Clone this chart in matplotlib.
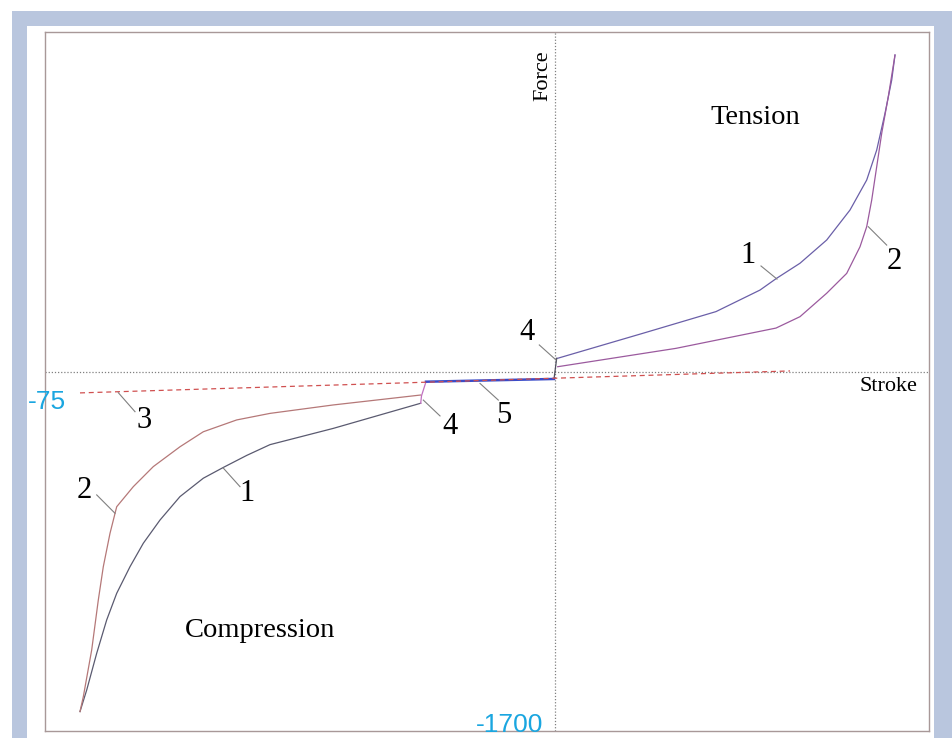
import matplotlib
matplotlib.use("Agg")
import matplotlib.pyplot as plt
from matplotlib.patches import Rectangle

# stroke (mm-ish) / force values
t1_stroke = [0.27, 8.77, 16.1, 20.5, 22.17, 24.5, 27.17, 29.5, 31.17, 32.17, 33.0, 33.67, 34.0]
t1_force = [65, 183, 286, 388, 444, 515, 625, 767, 909, 1051, 1225, 1382, 1501]
t2_stroke = [0.27, 12.1, 22.1, 24.5, 27.17, 29.17, 30.5, 31.17, 31.67, 32.17, 32.67, 33.33, 34.0]
t2_force = [25, 112, 208, 262, 373, 467, 593, 688, 814, 972, 1130, 1304, 1501]

c1_stroke = [-13.43, -22.17, -28.5, -30.83, -33.17, -35.17, -37.5, -39.5, -41.17,
             -42.5, -43.83, -44.83, -45.83, -46.83, -47.5]
c1_force = [-148, -267, -344, -395, -452, -503, -590, -701, -811,
            -922, -1048, -1174, -1332, -1506, -1608]
c2_stroke = [-13.43, -22.17, -28.5, -31.83, -35.17, -37.5, -40.17, -42.17, -43.83,
             -44.5, -45.17, -45.67, -46.33, -47.17, -47.5]
c2_force = [-109, -156, -196, -227, -283, -354, -448, -543, -638,
            -764, -922, -1080, -1316, -1538, -1608]

# 4: jumps, 5: idle stroke, 3: gas force
jump_c_stroke = [-13.43, -13.35, -12.9]
jump_c_force = [-148, -113, -46]
jump_t_stroke = [-0.1, 0.17]
jump_t_force = [-33, 65]
idle_stroke = [-12.9, -0.1]
idle_force = [-46, -33]
gas_stroke = [-47.5, 23.5]
gas_force = [-99, 5]

# number labels: text, text pos, leader from, leader to
labels = [
    ("1", (19.3, 554), (20.6, 502), (22.2, 440)),
    ("2", (33.9, 521), (33.17, 601), (31.33, 688)),
    ("4", (-2.8, 185), (-1.57, 128), (0.1, 57)),
    ("3", (-41.1, -232), (-42.0, -188), (-43.67, -98)),
    ("2", (-47.1, -559), (-45.83, -582), (-44.0, -669)),
    ("1", (-30.8, -573), (-31.5, -543), (-33.17, -455)),
    ("4", (-10.5, -256), (-11.5, -208), (-13.17, -133)),
    ("5", (-5.1, -208), (-5.67, -133), (-7.5, -54)),
]

W, H = 952, 738
fig = plt.figure(figsize=(W / 100, H / 100), dpi=100)
fig.patch.set_facecolor("white")

band = "#b9c6de"
def px_rect(x0, y0, x1, y1):
    fig.add_artist(Rectangle((x0 / W, 1 - y1 / H), (x1 - x0) / W, (y1 - y0) / H,
                             transform=fig.transFigure, color=band, lw=0, zorder=0))
px_rect(12, 11, 952, 26)
px_rect(12, 11, 27, 738)
px_rect(934, 11, 952, 738)

ax = fig.add_axes([45 / W, 1 - 731 / H, (929 - 45) / W, (731 - 32) / H])
ax.set_xlim(-51.0, 37.4)
ax.set_ylim(-1700, 1610)
ax.set_xticks([])
ax.set_yticks([])
for s in ax.spines.values():
    s.set_color("#a89898")
    s.set_linewidth(1.0)

ax.axhline(0, color="#808080", lw=0.9, ls=(0, (1, 1.5)))
ax.axvline(0, color="#808080", lw=0.9, ls=(0, (1, 1.5)))

ax.plot(t1_stroke, t1_force, color="#6a5fa8", lw=0.9)
ax.plot(t2_stroke, t2_force, color="#9b5a9e", lw=0.9)
ax.plot(c1_stroke, c1_force, color="#5a5a70", lw=0.9)
ax.plot(c2_stroke, c2_force, color="#b57878", lw=0.9)
ax.plot(jump_c_stroke, jump_c_force, color="#c070c0", lw=0.9)
ax.plot(jump_t_stroke, jump_t_force, color="#505060", lw=0.9)
ax.plot(idle_stroke, idle_force, color="#3a4bc8", lw=1.8)
ax.plot(gas_stroke, gas_force, color="#d05050", lw=0.9, ls=(0, (4, 3)))

serif = "Liberation Serif"
for txt, pos, p0, p1 in labels:
    ax.plot([p0[0], p1[0]], [p0[1], p1[1]], color="#808080", lw=0.8)
    ax.text(pos[0], pos[1], txt, ha="center", va="center", fontsize=22, family=serif)

ax.text(20.0, 1203, "Tension", ha="center", va="center", fontsize=20.5, family=serif)
ax.text(-29.5, -1222, "Compression", ha="center", va="center", fontsize=20.5, family=serif)
ax.text(-1.2, 1402, "Force", ha="center", va="center", fontsize=16, family=serif, rotation=90)
ax.text(33.3, -71, "Stroke", ha="center", va="center", fontsize=16, family=serif)

cyan = "#1aa6e0"
ax.text(-50.8, -142, "-75", ha="center", va="center", fontsize=19,
        family="Liberation Sans", color=cyan, clip_on=False)
ax.text(-4.5, -1672, "-1700", ha="center", va="center", fontsize=19,
        family="Liberation Sans", color=cyan, clip_on=False)

fig.savefig("out.png", dpi=100)
